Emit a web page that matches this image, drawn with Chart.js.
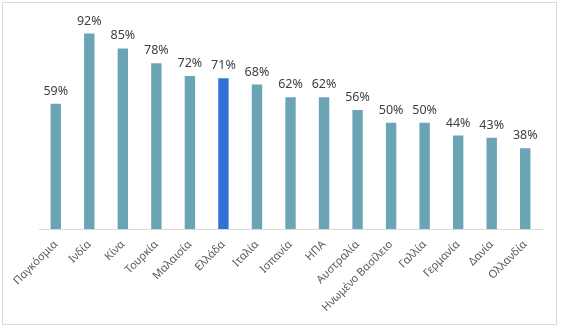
<!DOCTYPE html>
<html>
<head>
<meta charset="utf-8">
<script src="https://cdn.jsdelivr.net/npm/chart.js@4/dist/chart.umd.min.js"></script>
<style>
  html, body { margin: 0; padding: 0; background: #fff; }
  #wrap { position: relative; width: 562px; height: 329px; }
  #frame { position: absolute; left: 2px; top: 2px; width: 553px; height: 321px; border: 1px solid #d9d9d9; }
  #chart { position: absolute; left: 0; top: 0; }
</style>
</head>
<body>
<div id="wrap">
  <div id="frame"></div>
  <canvas id="chart" width="562" height="329"></canvas>
</div>
<script>
const countries = ['Παγκόσμια', 'Ινδία', 'Κίνα', 'Τουρκία', 'Μαλαισία', 'Ελλάδα', 'Ιταλία', 'Ισπανία',
  'ΗΠΑ', 'Αυστραλία', 'Ηνωμένο Βασίλειο', 'Γαλλία', 'Γερμανία', 'Δανία', 'Ολλανδία'];
const shares = [59, 92, 85, 78, 72, 71, 68, 62, 62, 56, 50, 50, 44, 43, 38];
const highlight = 'Ελλάδα';

const barColor = '#6ba5b5';
const highlightColor = '#3370d8';

// percentage labels above each bar
const valueLabels = {
  id: 'valueLabels',
  afterDatasetsDraw(chart) {
    const ctx = chart.ctx;
    const meta = chart.getDatasetMeta(0);
    ctx.save();
    ctx.font = '12.5px "Noto Sans", sans-serif';
    ctx.fillStyle = '#404040';
    ctx.textAlign = 'center';
    ctx.textBaseline = 'alphabetic';
    meta.data.forEach((bar, i) => {
      ctx.fillText(shares[i] + '%', bar.x, bar.y - 9);
    });
    ctx.restore();
  }
};

new Chart(document.getElementById('chart'), {
  type: 'bar',
  data: {
    labels: countries,
    datasets: [{
      data: shares,
      backgroundColor: countries.map(c => c === highlight ? highlightColor : barColor),
      categoryPercentage: 1,
      barPercentage: 0.31
    }]
  },
  options: {
    responsive: false,
    animation: false,
    layout: { padding: { left: 39, right: 20, top: 16.5, bottom: 0 } },
    plugins: { legend: { display: false }, tooltip: { enabled: false } },
    scales: {
      y: { display: false, min: 0, max: 100 },
      x: {
        grid: { drawOnChartArea: false, drawTicks: false },
        border: { display: true, color: '#d9d9d9', width: 1 },
        ticks: {
          autoSkip: false,
          minRotation: 45,
          maxRotation: 45,
          padding: 9,
          color: '#595959',
          font: { family: '"Noto Sans", sans-serif', size: 11 }
        },
        afterFit(scale) { scale.height = 100; }
      }
    }
  },
  plugins: [valueLabels]
});
</script>
</body>
</html>
